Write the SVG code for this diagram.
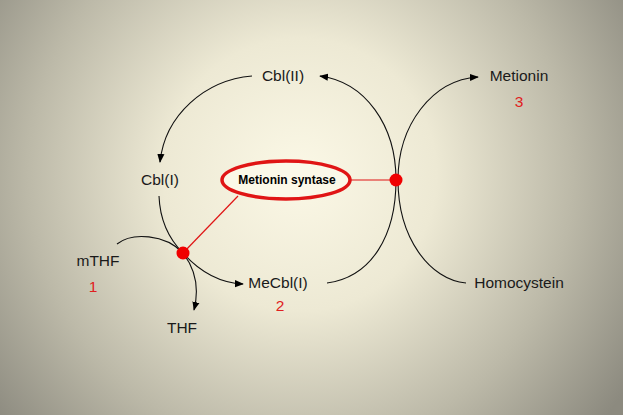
<svg xmlns="http://www.w3.org/2000/svg" width="623" height="415" viewBox="0 0 623 415">
<defs>
<radialGradient id="bg" gradientUnits="userSpaceOnUse" cx="300" cy="175" r="390">
<stop offset="0" stop-color="#fbf8e6"/>
<stop offset="0.35" stop-color="#ede9d4"/>
<stop offset="0.7" stop-color="#bcb9a8"/>
<stop offset="1" stop-color="#8c8a7f"/>
</radialGradient>
<marker id="ah" viewBox="0 0 10 10" refX="9" refY="5" markerWidth="9" markerHeight="9" markerUnits="userSpaceOnUse" orient="auto">
<path d="M0,1 L10,5 L0,9 z" fill="#000"/>
</marker>
</defs>
<style>
.lbl{font-family:"Liberation Sans",Arial,sans-serif;font-size:15.5px;fill:#1a1a1a;text-anchor:middle}
.num{font-family:"Liberation Sans",Arial,sans-serif;font-size:15.5px;fill:#e02020;text-anchor:middle}
.c{fill:none;stroke:#111;stroke-width:1.1}
.r{stroke:#e01515;stroke-width:1.2;fill:none}
.dot{fill:#f00000}
</style>
<rect width="623" height="415" fill="url(#bg)"/>
<g id="connectors">
<path class="c" d="M252,76 C205,80 165,115 160,162" marker-end="url(#ah)"/>
<path class="c" d="M396,180 C396,125 365,82 320,76" marker-end="url(#ah)"/>
<path class="c" d="M327,283 C372,277 396,235 396,180"/>
<path class="c" d="M398,180 C398,125 432,80 478,77" marker-end="url(#ah)"/>
<path class="c" d="M398,180 C398,238 430,280 466,283"/>
<path class="c" d="M159,196 C160,222 170,240 183,253"/>
<path class="c" d="M117,244 C132,232 165,234 183,253"/>
<path class="c" d="M183,253 C200,272 220,283 243,284" marker-end="url(#ah)"/>
<path class="c" d="M183,253 C196,270 199,290 194,310" marker-end="url(#ah)"/>
<line class="r" x1="350" y1="180" x2="396" y2="180"/>
<line class="r" x1="238" y1="196" x2="183" y2="253"/>
</g>
<g id="enzyme">
<ellipse cx="286" cy="180" rx="64" ry="19" fill="#fbf8e8" stroke="#e01515" stroke-width="3.5"/>
<text x="287" y="184" font-family="'Liberation Sans',Arial,sans-serif" font-size="12" font-weight="bold" fill="#000" text-anchor="middle">Metionin syntase</text>
</g>
<g id="dot-right"><circle class="dot" cx="396" cy="180" r="6.5"/></g>
<g id="dot-left"><circle class="dot" cx="183" cy="253" r="6.5"/></g>
<g id="cbl2"><text class="lbl" x="283" y="81">Cbl(II)</text></g>
<g id="cbl1"><text class="lbl" x="160" y="185">Cbl(I)</text></g>
<g id="mthf"><text class="lbl" x="98" y="266">mTHF</text><text class="num" x="93" y="292">1</text></g>
<g id="mecbl"><text class="lbl" x="278" y="288">MeCbl(I)</text><text class="num" x="280" y="311">2</text></g>
<g id="thf"><text class="lbl" x="182" y="333">THF</text></g>
<g id="metionin"><text class="lbl" x="519" y="81">Metionin</text><text class="num" x="519" y="107">3</text></g>
<g id="homocystein"><text class="lbl" x="519" y="288">Homocystein</text></g>
</svg>
